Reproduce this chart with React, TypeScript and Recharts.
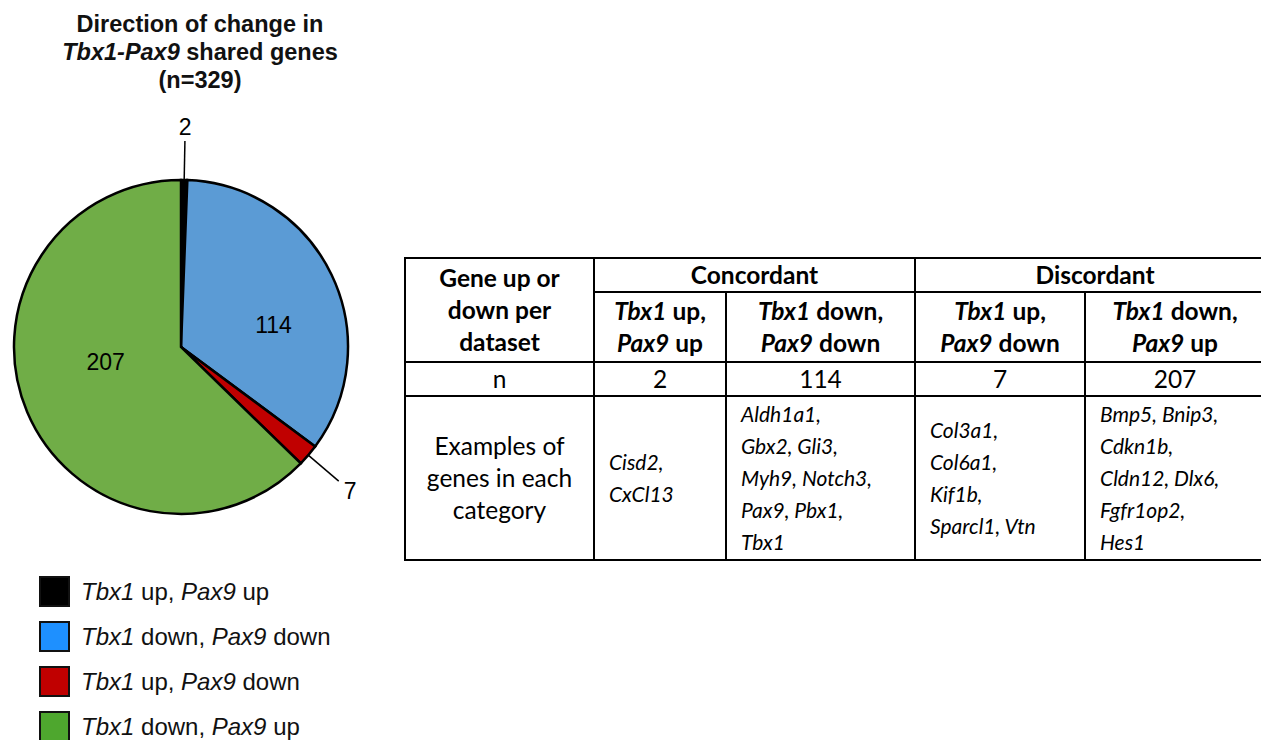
import React from "react";
import { PieChart, Pie, Cell, Legend } from "recharts";

// ---- data ----
const geneA = "Tbx1";
const geneB = "Pax9";
const dirA = ["up", "down", "up", "down"];
const dirB = ["up", "down", "down", "up"];
const counts = [2, 114, 7, 207];
const titleLines = ["Direction of change in", "shared genes", "(n=329)"];
const groupLabels = ["Concordant", "Discordant"];
const rowHeaders = ["Gene up or down per dataset", "n", "Examples of genes in each category"];
const exampleGenes = [
  ["Cisd2,", "CxCl13"],
  ["Aldh1a1,", "Gbx2, Gli3,", "Myh9, Notch3,", "Pax9, Pbx1,", "Tbx1"],
  ["Col3a1,", "Col6a1,", "Kif1b,", "Sparcl1, Vtn"],
  ["Bmp5, Bnip3,", "Cdkn1b,", "Cldn12, Dlx6,", "Fgfr1op2,", "Hes1"],
];

// ---- style ----
const sliceColors = ["#000000", "#5b9bd5", "#c00000", "#70ad47"];
const legendColors = ["#000000", "#1e90ff", "#c00000", "#4ea72e"];
const labelStyle = [
  { mode: "out", line: 39, text: 53, da: 0, rf: 0 },
  { mode: "in", rf: 0.57, da: -12, line: 0, text: 0 },
  { mode: "out", line: 40, text: 55, da: 0, rf: 0 },
  { mode: "in", rf: 0.46, da: -11.5, line: 0, text: 0 },
];
const sansFont = "Liberation Sans, Arial, sans-serif";

const pieData = counts.map((v, i) => ({
  name: `${geneA} ${dirA[i]}, ${geneB} ${dirB[i]}`,
  value: v,
}));

const RAD = Math.PI / 180;
const pt = (cx: number, cy: number, r: number, a: number) => ({
  x: cx + r * Math.cos(-a * RAD),
  y: cy + r * Math.sin(-a * RAD),
});

const renderLabel = (p: any) => {
  const { cx, cy, midAngle, outerRadius, index, value } = p;
  const s = labelStyle[index];
  const font = { fontFamily: sansFont, fontSize: 23, fill: "#000" };
  if (s.mode === "in") {
    const q = pt(cx, cy, outerRadius * s.rf, midAngle + s.da);
    return (
      <text x={q.x} y={q.y} textAnchor="middle" dominantBaseline="central" {...font}>
        {value}
      </text>
    );
  }
  const a = pt(cx, cy, outerRadius, midAngle);
  const b = pt(cx, cy, outerRadius + s.line, midAngle);
  const t = pt(cx, cy, outerRadius + s.text, midAngle);
  return (
    <g>
      <line x1={a.x} y1={a.y} x2={b.x} y2={b.y} stroke="#000" strokeWidth={1.5} />
      <text x={t.x} y={t.y} textAnchor="middle" dominantBaseline="central" {...font}>
        {value}
      </text>
    </g>
  );
};

const GeneLabel = ({ i }: { i: number }) => (
  <span>
    <i>{geneA}</i> {dirA[i]}, <i>{geneB}</i> {dirB[i]}
  </span>
);

const renderLegend = () => (
  <div style={{ fontFamily: sansFont, fontSize: 24, color: "#111" }}>
    {counts.map((_, i) => (
      <div key={i} style={{ display: "flex", alignItems: "center", height: 45 }}>
        <div
          style={{
            width: 27,
            height: 27,
            background: legendColors[i],
            border: "2px solid #111",
            marginRight: 11,
          }}
        />
        <GeneLabel i={i} />
      </div>
    ))}
  </div>
);

const cellBorder = "2px solid #000";
const tdBase: React.CSSProperties = {
  border: cellBorder,
  textAlign: "center",
  verticalAlign: "middle",
  padding: 0,
};

const HeaderGene = ({ i }: { i: number }) => (
  <span>
    <i>{geneA}</i> {dirA[i]},<br />
    <i>{geneB}</i> {dirB[i]}
  </span>
);

export default function App() {
  return (
    <div style={{ position: "absolute", left: 0, top: 0, width: 1261, height: 740, background: "#fff", overflow: "hidden" }}>
      <div
        style={{
          position: "absolute",
          left: 0,
          top: 10,
          width: 400,
          textAlign: "center",
          fontFamily: sansFont,
          fontWeight: "bold",
          fontSize: 23.5,
          lineHeight: "28px",
          color: "#111",
        }}
      >
        {titleLines[0]}
        <br />
        <i>
          {geneA}-{geneB}
        </i>{" "}
        {titleLines[1]}
        <br />
        {titleLines[2]}
      </div>
      <div style={{ position: "absolute", left: 0, top: 0 }}>
        <PieChart width={400} height={740} margin={{ top: 0, right: 0, bottom: 0, left: 0 }}>
          <Pie
            data={pieData}
            dataKey="value"
            nameKey="name"
            cx={181}
            cy={347}
            outerRadius={167}
            startAngle={90}
            endAngle={-270}
            stroke="#000"
            strokeWidth={2.5}
            label={renderLabel}
            labelLine={false}
            isAnimationActive={false}
          >
            {pieData.map((_, i) => (
              <Cell key={i} fill={sliceColors[i]} />
            ))}
          </Pie>
          <Legend
            content={renderLegend}
            layout="horizontal"
            verticalAlign="bottom"
            align="left"
            wrapperStyle={{ left: 39, top: 569, bottom: "auto", width: 340 }}
          />
        </PieChart>
      </div>
      <table
        style={{
          position: "absolute",
          left: 404,
          top: 257,
          borderCollapse: "collapse",
          tableLayout: "fixed",
          width: 870,
          fontFamily: "Lato, Calibri, sans-serif",
          fontSize: 24.5,
          lineHeight: "32px",
          color: "#000",
        }}
      >
        <colgroup>
          <col style={{ width: 189 }} />
          <col style={{ width: 132 }} />
          <col style={{ width: 189 }} />
          <col style={{ width: 170 }} />
          <col style={{ width: 190 }} />
        </colgroup>
        <tbody>
          <tr style={{ height: 33 }}>
            <td rowSpan={2} style={{ ...tdBase, fontWeight: "bold" }}>
              Gene up or
              <br />
              down per
              <br />
              dataset
            </td>
            <td colSpan={2} style={{ ...tdBase, fontWeight: "bold" }}>
              {groupLabels[0]}
            </td>
            <td colSpan={2} style={{ ...tdBase, fontWeight: "bold" }}>
              {groupLabels[1]}
            </td>
          </tr>
          <tr style={{ height: 70 }}>
            {counts.map((_, i) => (
              <td key={i} style={{ ...tdBase, fontWeight: "bold", paddingRight: i === 3 ? 10 : 0 }}>
                <HeaderGene i={i} />
              </td>
            ))}
          </tr>
          <tr style={{ height: 31 }}>
            <td style={tdBase}>{rowHeaders[1]}</td>
            {counts.map((v, i) => (
              <td key={i} style={{ ...tdBase, paddingRight: i === 3 ? 10 : 0 }}>
                {v}
              </td>
            ))}
          </tr>
          <tr style={{ height: 164 }}>
            <td style={tdBase}>
              Examples of
              <br />
              genes in each
              <br />
              category
            </td>
            {exampleGenes.map((g, i) => (
              <td
                key={i}
                style={{ ...tdBase, textAlign: "left", paddingLeft: 14, fontStyle: "italic", fontSize: 21 }}
              >
                {g.map((line, j) => (
                  <div key={j}>{line}</div>
                ))}
              </td>
            ))}
          </tr>
        </tbody>
      </table>
    </div>
  );
}
